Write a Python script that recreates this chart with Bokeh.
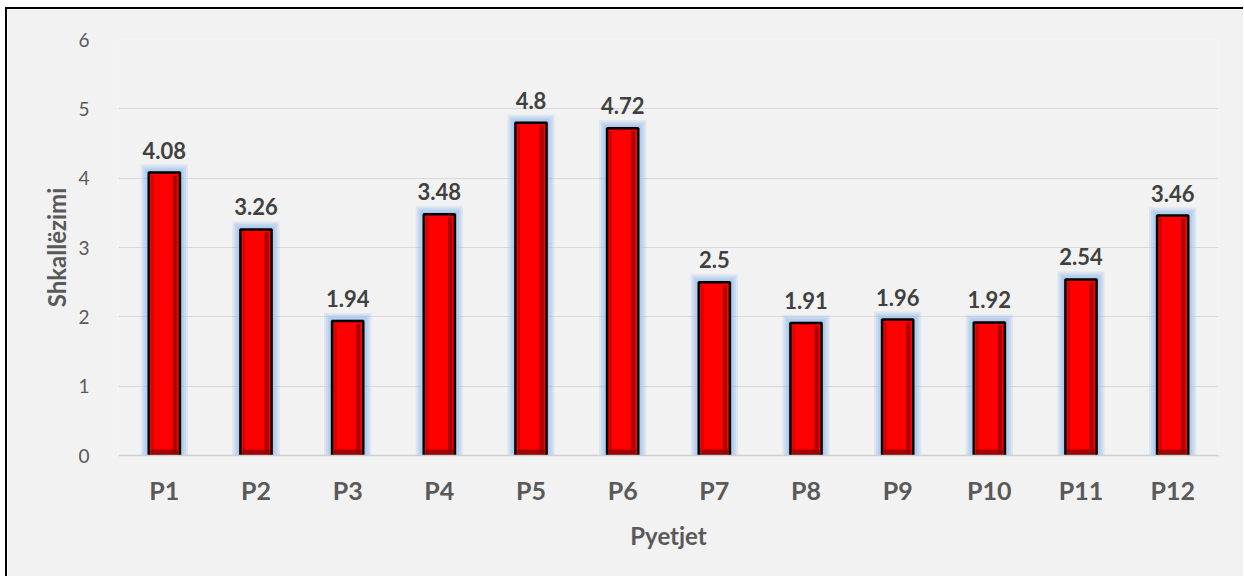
from bokeh.plotting import figure
from bokeh.layouts import column
from bokeh.models import ColumnDataSource, Range1d, FixedTicker, LabelSet, FactorRange
from bokeh.core.properties import value
from bokeh.transform import dodge
from bokeh.embed import file_html
from bokeh.resources import INLINE

# Mean scale score per question
questions = ["P1", "P2", "P3", "P4", "P5", "P6", "P7", "P8", "P9", "P10", "P11", "P12"]
scores = [4.08, 3.26, 1.94, 3.48, 4.8, 4.72, 2.5, 1.91, 1.96, 1.92, 2.54, 3.46]
y_ticks = [0, 1, 2, 3, 4, 5, 6]

FONT = "Lato"
TEXT = "#595959"
BG = "#F2F2F2"
PX_PER_UNIT = 416 / 6.0   # frame height / y span, for pixel-sized offsets
PX_PER_CAT = 1100 / 12.0  # frame width / number of categories
BAR_W = 0.34

src = ColumnDataSource(dict(
    q=questions,
    v=scores,
    lbl=[f"{s:g}" for s in scores],
))

p = figure(
    width=1236, height=567,
    x_range=FactorRange(*questions, range_padding=0),
    y_range=Range1d(0, 6),
    output_backend="svg", toolbar_location=None,
    min_border_left=111, min_border_right=25,
    min_border_top=30, min_border_bottom=121,
    background_fill_color=BG, border_fill_color=BG,
)
p.outline_line_color = None

# soft blue glow around each bar, built from stacked translucent layers
glow = [(8, 0.22), (6, 0.26), (4, 0.30), (2, 0.35)]
for k, _ in glow:
    src.data[f"g{k}"] = [v + k / PX_PER_UNIT for v in scores]
for k, a in glow:
    p.vbar(x="q", top=f"g{k}", bottom=0, source=src,
           width=BAR_W + 2 * k / PX_PER_CAT,
           fill_color="#8DB8EA", fill_alpha=a, line_color=None)

# bars: red fill with a black outline
p.vbar(x="q", top="v", bottom=0, source=src, width=BAR_W,
       fill_color="#FF0000", line_color="#000000", line_width=2.5)

# bevel shading on the right, left and bottom edges of each bar
src.data["vb"] = [v - 3 / PX_PER_UNIT for v in scores]
p.vbar(x=dodge("q", BAR_W / 2 - 5 / PX_PER_CAT, range=p.x_range), top="vb", bottom=0,
       source=src, width=4 / PX_PER_CAT, fill_color="#9A0000", fill_alpha=0.85, line_color=None)
p.vbar(x=dodge("q", -BAR_W / 2 + 3.5 / PX_PER_CAT, range=p.x_range), top="vb", bottom=0,
       source=src, width=2 / PX_PER_CAT, fill_color="#B00000", fill_alpha=0.7, line_color=None)
p.vbar(x="q", top=6 / PX_PER_UNIT, bottom=0, source=src, width=BAR_W - 4 / PX_PER_CAT,
       fill_color="#8A0000", fill_alpha=0.75, line_color=None)

labels = LabelSet(x="q", y="v", text="lbl", source=src,
                  text_align="center", text_baseline="bottom", y_offset=14,
                  text_font=value(FONT), text_font_style="bold",
                  text_font_size="22px", text_color="#404040")
p.add_layout(labels)

# axes
p.yaxis.ticker = FixedTicker(ticks=y_ticks)
p.yaxis.axis_line_color = None
p.yaxis.major_tick_line_color = None
p.yaxis.minor_tick_line_color = None
p.yaxis.major_label_text_font = FONT
p.yaxis.major_label_text_font_size = "19px"
p.yaxis.major_label_text_color = TEXT
p.yaxis.major_label_standoff = 23
p.yaxis.axis_label = "Shkallëzimi"
p.yaxis.axis_label_text_font = FONT
p.yaxis.axis_label_text_font_style = "bold"
p.yaxis.axis_label_text_font_size = "24px"
p.yaxis.axis_label_text_color = TEXT
p.yaxis.axis_label_standoff = 4

p.xaxis.axis_line_color = "#D0D0D0"
p.xaxis.axis_line_width = 1.5
p.xaxis.major_tick_line_color = None
p.xaxis.minor_tick_line_color = None
p.xaxis.major_label_text_font = FONT
p.xaxis.major_label_text_font_style = "bold"
p.xaxis.major_label_text_font_size = "25px"
p.xaxis.major_label_text_color = TEXT
p.xaxis.major_label_standoff = 13
p.xaxis.axis_label = "Pyetjet"
p.xaxis.axis_label_text_font = FONT
p.xaxis.axis_label_text_font_style = "bold"
p.xaxis.axis_label_text_font_size = "24px"
p.xaxis.axis_label_text_color = TEXT
p.xaxis.axis_label_standoff = 13

p.xgrid.grid_line_color = None
p.ygrid.grid_line_color = "#D9D9D9"
p.ygrid.grid_line_width = 1.2

# framed page: black rule along the top and left of the chart
page = column(p, margin=(7, 0, 0, 5))
page.styles = {"border-left": "2px solid #000", "border-top": "2px solid #000",
               "overflow": "hidden"}

open("out.html", "w").write(file_html(page, INLINE))
